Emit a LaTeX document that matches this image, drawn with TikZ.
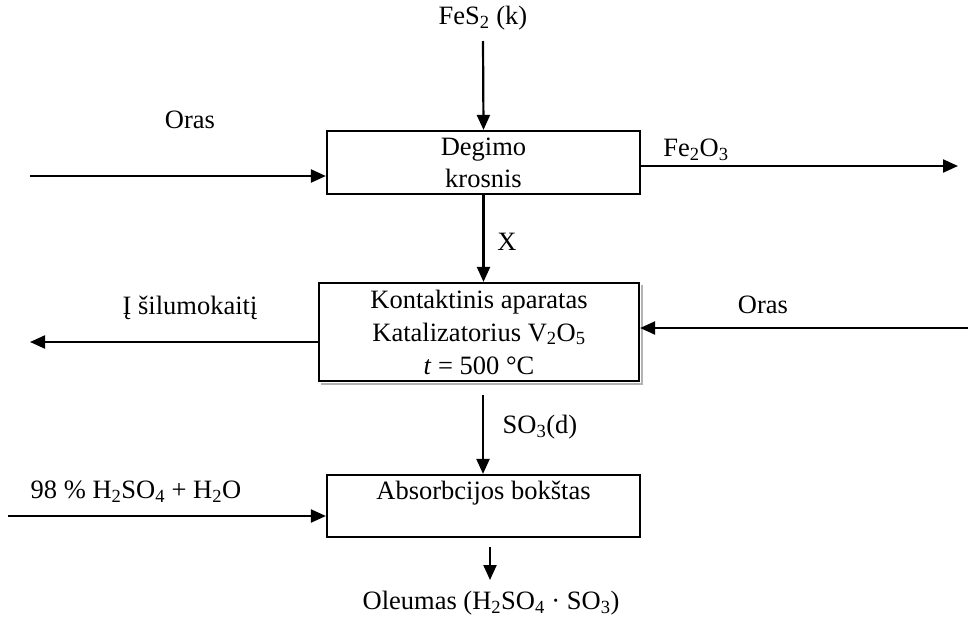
\documentclass[tikz,border=0pt]{standalone}
\usepackage{fontspec}
\setmainfont{Liberation Serif}
\usetikzlibrary{arrows.meta}
\newcommand{\sbs}[1]{\textsubscript{#1}}
\begin{document}
\begin{tikzpicture}[x=1pt,y=-1pt,
  every node/.style={font=\fontsize{26.5}{33}\selectfont, inner sep=0pt},
  proc/.style={draw, line width=2.2pt, fill=white},
  arr/.style={line width=2.2pt, -{Triangle[length=15pt,width=13pt]}},
  lbl/.style={align=center}]
\useasboundingbox (0,0) rectangle (968,632);
% boxes
\node[proc, minimum width=313pt, minimum height=63pt, align=center] (dg) at (483.5,162.5) {Degimo\\[-1pt]krosnis};
\draw[line width=2.2pt, gray!60] (321,384) -- (642,384) -- (642,285);
\node[proc, minimum width=320pt, minimum height=98pt, align=center] (kt) at (479,332) {Kontaktinis aparatas\\Katalizatorius V\sbs{2}O\sbs{5}\\\textit{t} = 500 °C};
\node[proc, minimum width=313pt, minimum height=62pt] (ab) at (483.5,506) {};
\node[lbl] (abt) at (483.5,493) {Absorbcijos bokštas};
% coordinates
\coordinate (fes) at (483,41);
\coordinate (oraL) at (30,176);
\coordinate (feo) at (958,166);
\coordinate (sil) at (30,342);
\coordinate (oraR) at (968,328);
\coordinate (so3) at (483,395);
\coordinate (acid) at (8,516);
\coordinate (outA) at (490,547);
\coordinate (outB) at (490,580);
% labels
\node[lbl] (tfes) at (483,18) {FeS\sbs{2} (k)};
\node[lbl] (tora1) at (190,120) {Oras};
\node[lbl] (tfeo) at (696,150) {Fe\sbs{2}O\sbs{3}};
\node[lbl] (tx) at (507,242) {X};
\node[lbl] (tsil) at (190,308) {Į šilumokaitį};
\node[lbl] (tora2) at (763,305) {Oras};
\node[lbl] (tso3) at (540,427) {SO\sbs{3}(d)};
\node[lbl] (tacid) at (136,492) {98 \% H\sbs{2}SO\sbs{4} + H\sbs{2}O};
\node[lbl] (tole) at (491,603) {Oleumas (H\sbs{2}SO\sbs{4} · SO\sbs{3})};
% connectors
\draw[arr] (fes) -- (dg.north);
\draw[arr] (oraL) -- (oraL -| dg.west);
\draw[arr] (dg.east |- feo) -- (feo);
\draw[arr] (dg.south) -- (dg.south |- kt.north);
\draw[arr] (kt.west |- sil) -- (sil);
\draw[arr] (oraR) -- (oraR -| kt.east);
\draw[arr] (so3) -- (so3 |- ab.north);
\draw[arr] (acid) -- (acid -| ab.west);
\draw[arr] (outA) -- (outB);
\end{tikzpicture}
\end{document}
